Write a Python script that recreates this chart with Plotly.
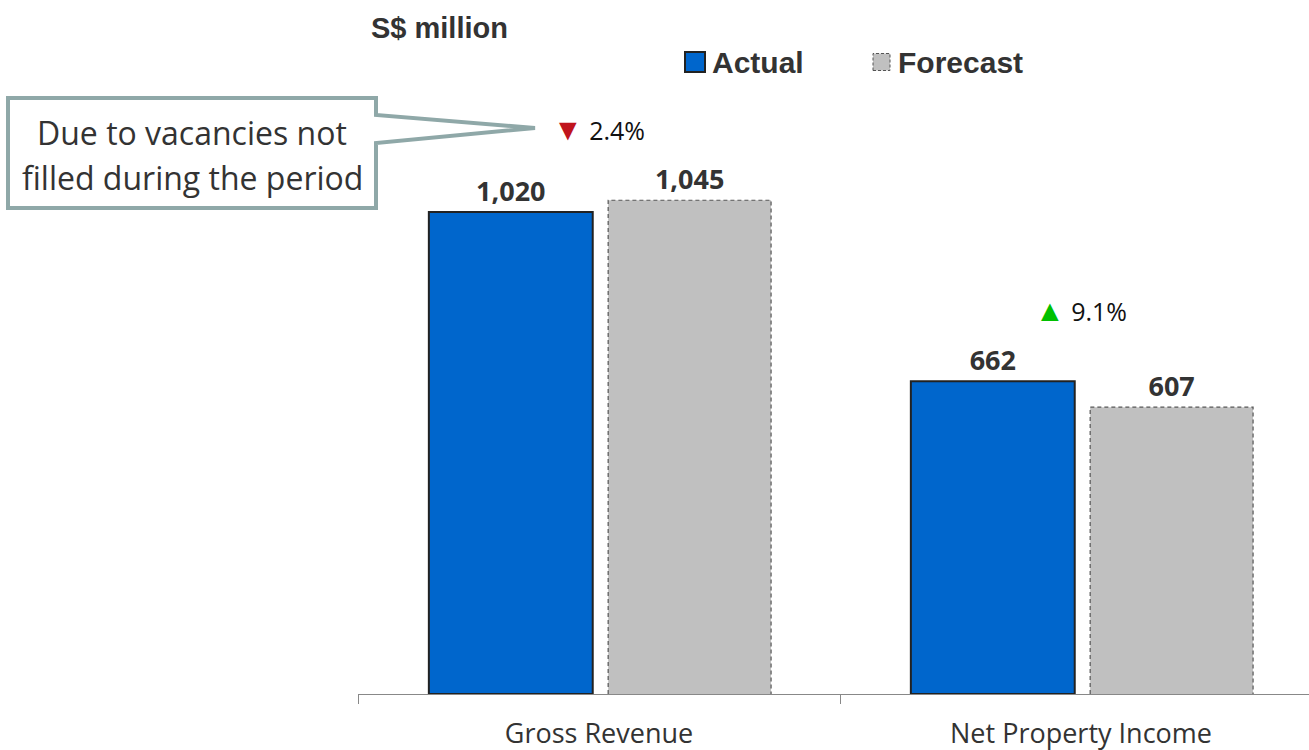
import plotly.graph_objects as go

# Data
categories = ["Gross Revenue", "Net Property Income"]
actual = [1020, 662]
forecast = [1045, 607]
series_names = ["Actual", "Forecast"]

W, H = 1309, 750
L, R, T, B = 358, 0, 127, 56
plot_w = W - L - R
plot_h = H - T - B
Y_MAX = 1200
CAT_PX = 482  # pixels per category on the x axis
x_min = -0.5
x_max = x_min + plot_w / CAT_PX

def px_x(px):
    return (px - L) / plot_w

def px_y(py):
    return (H - B - py) / plot_h

TEXT = "#333333"
BODY_FONT = "Open Sans"
HEAD_FONT = "Liberation Sans"
ACTUAL_FILL, ACTUAL_EDGE = "#0066cc", "#222222"
FC_FILL, FC_EDGE = "#c0c0c0", "#555555"

idx = list(range(len(categories)))
a_off, a_w = -0.353, 0.340
f_off, f_w = 0.019, 0.338

fig = go.Figure()
fig.add_trace(go.Bar(
    name=series_names[0], x=idx, y=actual, offset=a_off, width=a_w,
    marker=dict(color=ACTUAL_FILL, line=dict(color=ACTUAL_EDGE, width=2)),
    text=[f"{v:,}" for v in actual], textposition="outside",
    textfont=dict(family=BODY_FONT, size=27, color=TEXT, weight="bold"),
    cliponaxis=False, showlegend=False,
))
fig.add_trace(go.Bar(
    name=series_names[1], x=idx, y=forecast, offset=f_off, width=f_w,
    marker=dict(color=FC_FILL, line=dict(color=FC_FILL, width=0)),
    text=[f"{v:,}" for v in forecast], textposition="outside",
    textfont=dict(family=BODY_FONT, size=27, color=TEXT, weight="bold"),
    cliponaxis=False, showlegend=False,
))

# dashed outline around the forecast bars
ox, oy = [], []
for i, v in zip(idx, forecast):
    x0, x1 = i + f_off, i + f_off + f_w
    ox += [x0, x0, x1, x1, None]
    oy += [0, v, v, 0, None]
fig.add_trace(go.Scatter(
    x=ox, y=oy, mode="lines", showlegend=False, hoverinfo="skip",
    line=dict(color=FC_EDGE, width=1.2, dash="4px,3px"), cliponaxis=False,
))

# variance markers above each group
for i, (a, f) in enumerate(zip(actual, forecast)):
    pct = (a - f) / f * 100
    if pct < 0:
        sym = "<span style='color:#c0141c;font-size:30px'>▼</span>"
    else:
        sym = "<span style='color:#00c000;font-size:30px'>▲</span>"
    fig.add_annotation(
        x=i, y=max(a, f), yshift=72, showarrow=False,
        text=f"{sym} {abs(pct):.1f}%",
        font=dict(family=BODY_FONT, size=25, color="#111111"),
    )

# callout box with a pointer
pts = [(8, 98), (376, 98), (376, 115), (535, 128), (376, 143), (376, 208), (8, 208)]
path = "M " + " L ".join(f"{px_x(x):.5f},{px_y(y):.5f}" for x, y in pts) + " Z"
fig.add_shape(type="path", xref="paper", yref="paper", path=path,
              line=dict(color="#8fa8a8", width=4), fillcolor="white", layer="above")
for line_text, yy in [("Due to vacancies not", 132), ("filled during the period", 177)]:
    fig.add_annotation(
        xref="paper", yref="paper", x=px_x(192), y=px_y(yy), showarrow=False,
        text=line_text, font=dict(family=BODY_FONT, size=32, color=TEXT),
        xanchor="center", yanchor="middle",
    )

fig.add_annotation(
    xref="paper", yref="paper", x=px_x(369), y=px_y(28), showarrow=False,
    text="<b>S$ million</b>", xanchor="left", yanchor="middle",
    font=dict(family=HEAD_FONT, size=29, color=TEXT),
)

# legend: swatches and labels
LEG_Y = 62
legend_items = [
    (series_names[0], 685, 705, 710, dict(color=ACTUAL_EDGE, width=2), ACTUAL_FILL),
    (series_names[1], 873, 890, 896, dict(color=FC_EDGE, width=1, dash="3px,2px"), FC_FILL),
]
for name, sx0, sx1, tx, edge, fill in legend_items:
    half = (sx1 - sx0) / 2
    fig.add_shape(type="rect", xref="paper", yref="paper",
                  x0=px_x(sx0), x1=px_x(sx1), y0=px_y(LEG_Y + half), y1=px_y(LEG_Y - half),
                  line=edge, fillcolor=fill)
    fig.add_annotation(
        xref="paper", yref="paper", x=px_x(tx), y=px_y(LEG_Y), showarrow=False,
        text=f"<b>{name}</b>", xanchor="left", yanchor="middle",
        font=dict(family=HEAD_FONT, size=30, color=TEXT),
    )

fig.update_layout(
    width=W, height=H,
    margin=dict(l=L, r=R, t=T, b=B, autoexpand=False),
    plot_bgcolor="white", paper_bgcolor="white",
    barmode="overlay",
    showlegend=False,
    xaxis=dict(
        range=[x_min, x_max], tickmode="array", tickvals=idx, ticktext=categories,
        ticks="", showgrid=False, zeroline=False, automargin=False,
        showline=True, linecolor="#888888", linewidth=1,
        tickfont=dict(family=BODY_FONT, size=27, color=TEXT),
        ticklabelstandoff=16,
        minor=dict(tickvals=[-0.5, 0.5], ticks="outside", ticklen=9,
                   tickcolor="#888888", tickwidth=1, showgrid=False),
    ),
    yaxis=dict(range=[0, Y_MAX], visible=False, showgrid=False, zeroline=False,
               automargin=False),
)

fig.write_html("out.html")
